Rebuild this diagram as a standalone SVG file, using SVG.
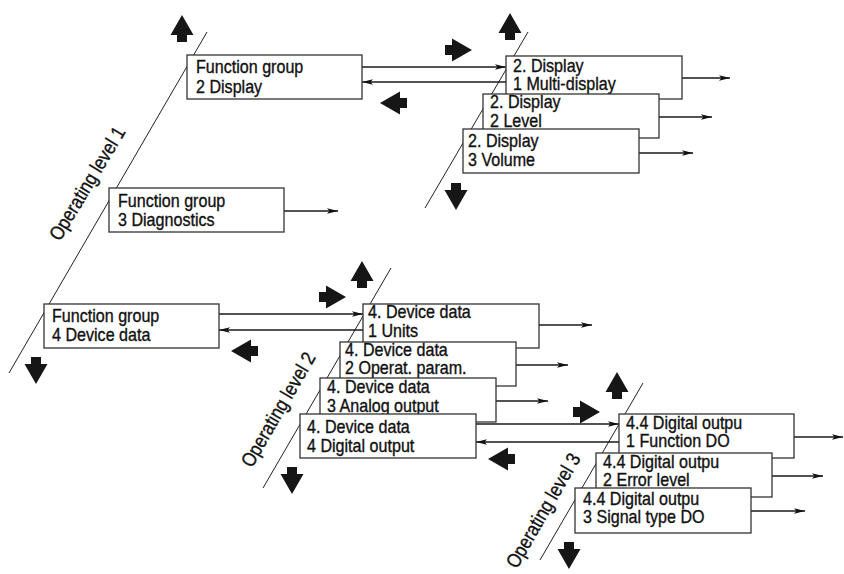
<svg xmlns="http://www.w3.org/2000/svg" width="844" height="574" viewBox="0 0 844 574">
<style>
.bg{fill:#fff}
.box{fill:#fff;stroke:#333;stroke-width:1.3}
.t{font-family:"Liberation Sans",Arial,sans-serif;font-size:17.5px;fill:#111;stroke:#111;stroke-width:0.35}
.lbl{font-family:"Liberation Sans",Arial,sans-serif;font-size:20px;fill:#111;stroke:#111;stroke-width:0.35;text-anchor:middle}
.lvl{stroke:#222;stroke-width:1;fill:none}
.c{stroke:#1a1a1a;stroke-width:1.6;fill:none;marker-end:url(#ah)}
.fat{fill:#161616}
</style>
<defs>
<marker id="ah" viewBox="0 0 11 6" refX="11" refY="3" markerWidth="11" markerHeight="6" markerUnits="userSpaceOnUse" orient="auto">
<path d="M0,0.3 L11,3 L0,5.7 L2.5,3 Z" fill="#111"/>
</marker>
<path id="fa" d="M0,0 L11.5,20 L5,20 L5,27 L-5,27 L-5,20 L-11.5,20 Z"/>
</defs>
<rect class="bg" x="0" y="0" width="844" height="574"/>

<g id="levels">
<line class="lvl" x1="207" y1="32" x2="9" y2="373"/>
<line class="lvl" x1="528" y1="32" x2="425" y2="208"/>
<line class="lvl" x1="391" y1="268" x2="263" y2="488"/>
<line class="lvl" x1="643" y1="383" x2="540" y2="560"/>
<text class="lbl" transform="translate(93 187) rotate(-59) scale(.85 1)">Operating level 1</text>
<text class="lbl" transform="translate(284 413) rotate(-60) scale(.85 1)">Operating level 2</text>
<text class="lbl" transform="translate(549 514) rotate(-60) scale(.85 1)">Operating level 3</text>
</g>

<g id="navigation-arrows" class="fat">
<use href="#fa" transform="translate(182 15)"/>
<use href="#fa" transform="translate(36 384) rotate(180)"/>
<use href="#fa" transform="translate(510 13)"/>
<use href="#fa" transform="translate(456 210) rotate(180)"/>
<use href="#fa" transform="translate(472 50) rotate(90)"/>
<use href="#fa" transform="translate(380 103) rotate(-90)"/>
<use href="#fa" transform="translate(362 261)"/>
<use href="#fa" transform="translate(292 494) rotate(180)"/>
<use href="#fa" transform="translate(346 297) rotate(90)"/>
<use href="#fa" transform="translate(231 351) rotate(-90)"/>
<use href="#fa" transform="translate(617 372)"/>
<use href="#fa" transform="translate(569 569) rotate(180)"/>
<use href="#fa" transform="translate(600 412) rotate(90)"/>
<use href="#fa" transform="translate(488 459) rotate(-90)"/>
</g>

<g id="connectors">
<line class="c" x1="362" y1="67" x2="506" y2="67"/>
<line class="c" x1="506" y1="82" x2="362" y2="82"/>
<line class="c" x1="682" y1="78" x2="730" y2="78"/>
<line class="c" x1="659" y1="117" x2="712" y2="117"/>
<line class="c" x1="639" y1="153" x2="693" y2="153"/>
<line class="c" x1="284" y1="211" x2="338" y2="211"/>
<line class="c" x1="219" y1="314" x2="363" y2="314"/>
<line class="c" x1="363" y1="330" x2="219" y2="330"/>
<line class="c" x1="539" y1="325" x2="592" y2="325"/>
<line class="c" x1="516" y1="365" x2="568" y2="365"/>
<line class="c" x1="496" y1="401" x2="548" y2="401"/>
<line class="c" x1="476" y1="424" x2="619" y2="424"/>
<line class="c" x1="619" y1="442" x2="476" y2="442"/>
<line class="c" x1="794" y1="437" x2="843" y2="437"/>
<line class="c" x1="772" y1="476" x2="823" y2="476"/>
<line class="c" x1="751" y1="511" x2="805" y2="511"/>
</g>

<g id="fg2">
<rect class="box" x="187" y="55" width="175" height="44"/>
<text class="t" transform="translate(196 73) scale(.92 1)"><tspan x="0" y="0">Function group</tspan><tspan x="0" y="20">2 Display</tspan></text>
</g>
<g id="fg3">
<rect class="box" x="109" y="188" width="175" height="44"/>
<text class="t" transform="translate(118 207) scale(.92 1)"><tspan x="0" y="0">Function group</tspan><tspan x="0" y="19">3 Diagnostics</tspan></text>
</g>
<g id="fg4">
<rect class="box" x="44" y="304" width="175" height="44"/>
<text class="t" transform="translate(52 322) scale(.92 1)"><tspan x="0" y="0">Function group</tspan><tspan x="0" y="19">4 Device data</tspan></text>
</g>

<g id="d1">
<rect class="box" x="506" y="56" width="176" height="43"/>
<text class="t" transform="translate(513 72) scale(.92 1)"><tspan x="0" y="0">2. Display</tspan><tspan x="0" y="18.5">1 Multi-display</tspan></text>
</g>
<g id="d2">
<rect class="box" x="483" y="94" width="176" height="44"/>
<text class="t" transform="translate(490 108) scale(.92 1)"><tspan x="0" y="0">2. Display</tspan><tspan x="0" y="19">2 Level</tspan></text>
</g>
<g id="d3">
<rect class="box" x="463" y="129" width="176" height="44"/>
<text class="t" transform="translate(468 147) scale(.92 1)"><tspan x="0" y="0">2. Display</tspan><tspan x="0" y="19">3 Volume</tspan></text>
</g>

<g id="dd1">
<rect class="box" x="363" y="304" width="176" height="44"/>
<text class="t" transform="translate(368 318) scale(.92 1)"><tspan x="0" y="0">4. Device data</tspan><tspan x="0" y="19">1 Units</tspan></text>
</g>
<g id="dd2">
<rect class="box" x="340" y="342" width="176" height="44"/>
<text class="t" transform="translate(345 356) scale(.92 1)"><tspan x="0" y="0">4. Device data</tspan><tspan x="0" y="18.5">2 Operat. param.</tspan></text>
</g>
<g id="dd3">
<rect class="box" x="320" y="378" width="176" height="44"/>
<text class="t" transform="translate(327 393) scale(.92 1)"><tspan x="0" y="0">4. Device data</tspan><tspan x="0" y="19">3 Analog output</tspan></text>
</g>
<g id="dd4">
<rect class="box" x="300" y="414" width="176" height="44"/>
<text class="t" transform="translate(307 433) scale(.92 1)"><tspan x="0" y="0">4. Device data</tspan><tspan x="0" y="19">4 Digital output</tspan></text>
</g>

<g id="do1">
<rect class="box" x="619" y="414" width="175" height="44"/>
<text class="t" transform="translate(626 429) scale(.92 1)"><tspan x="0" y="0">4.4 Digital outpu</tspan><tspan x="0" y="18.5">1 Function DO</tspan></text>
</g>
<g id="do2">
<rect class="box" x="596" y="453" width="176" height="44"/>
<text class="t" transform="translate(603 468) scale(.92 1)"><tspan x="0" y="0">4.4 Digital outpu</tspan><tspan x="0" y="18.5">2 Error level</tspan></text>
</g>
<g id="do3">
<rect class="box" x="575" y="488" width="176" height="45"/>
<text class="t" transform="translate(583 505) scale(.92 1)"><tspan x="0" y="0">4.4 Digital outpu</tspan><tspan x="0" y="18.5">3 Signal type DO</tspan></text>
</g>
</svg>
